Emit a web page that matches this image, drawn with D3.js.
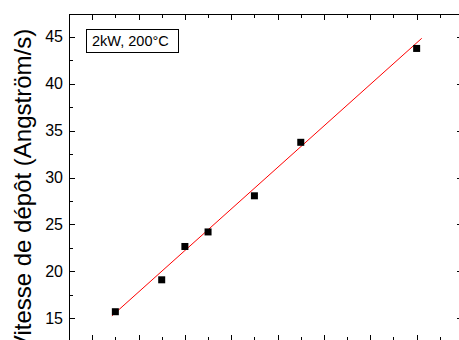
<!DOCTYPE html>
<html>
<head>
<meta charset="utf-8">
<script src="https://cdn.jsdelivr.net/npm/d3@7"></script>
<style>
  body { margin: 0; background: #fff; }
  svg { display: block; font-family: "Liberation Sans", Arial, sans-serif; }
</style>
</head>
<body>
<div id="chart"></div>
<script>
////////////////////////////////////////////////////////////
//////////////////////// Data //////////////////////////////
////////////////////////////////////////////////////////////

var xValues = [1, 3, 4, 5, 7, 9, 14];
var yValues = [15.7, 19.1, 22.65, 24.2, 28.05, 33.75, 43.75];
var yTickLabels = [15, 20, 25, 30, 35, 40, 45];
//linear fit as drawn in the picture (two end points)
var fitX = [0.85, 14.22];
var fitY = [15.25, 44.83];
var boxLabel = "2kW, 200°C";
var yTitle = "Vitesse de dépôt (Angström/s)";

////////////////////////////////////////////////////////////
//////////////////////// Set-Up ////////////////////////////
////////////////////////////////////////////////////////////

var width = 459, height = 340;
var plot = {left: 69, top: 14, right: 463, bottom: 341};

var x = d3.scaleLinear().domain([-1, 16]).range([plot.left, plot.right]);
var y = d3.scaleLinear().domain([12.58, 47.42]).range([plot.bottom, plot.top]);

var svg = d3.select("#chart").append("svg")
	.attr("width", width)
	.attr("height", height);

//frame
svg.append("rect")
	.attr("x", plot.left + 0.5).attr("y", plot.top + 0.5)
	.attr("width", plot.right - plot.left).attr("height", plot.bottom - plot.top)
	.attr("fill", "none").attr("stroke", "#000").attr("stroke-width", 1);

//x ticks (bottom and top, pointing inward)
var xMajor = d3.range(0, 17, 2), xMinor = d3.range(1, 16, 2);
function xTicks(vals, len) {
	vals.forEach(function(v) {
		var px = Math.round(x(v)) + 0.5;
		svg.append("line").attr("x1", px).attr("x2", px)
			.attr("y1", plot.bottom).attr("y2", plot.bottom - len).attr("stroke", "#000");
		svg.append("line").attr("x1", px).attr("x2", px)
			.attr("y1", plot.top).attr("y2", plot.top + len).attr("stroke", "#000");
	});
}
xTicks(xMajor, 6);
xTicks(xMinor, 4);

//y ticks (left and right, pointing inward)
var yMinor = yTickLabels.map(function(d) { return d - 2.5; }).concat([47.5]);
function yTicks(vals, len) {
	vals.forEach(function(v) {
		if (v < y.domain()[0] || v > y.domain()[1]) return;
		var py = Math.round(y(v)) + 0.5;
		svg.append("line").attr("x1", plot.left).attr("x2", plot.left + len)
			.attr("y1", py).attr("y2", py).attr("stroke", "#000");
		svg.append("line").attr("x1", plot.right).attr("x2", plot.right - len)
			.attr("y1", py).attr("y2", py).attr("stroke", "#000");
	});
}
yTicks(yTickLabels, 6);
yTicks(yMinor, 4);

//y tick labels
svg.selectAll("text.ylab")
	.data(yTickLabels)
	.enter().append("text")
	.attr("class", "ylab")
	.attr("x", plot.left - 6)
	.attr("y", function(d) { return y(d); })
	.attr("dy", "0.36em")
	.attr("text-anchor", "end")
	.style("font-size", "16px")
	.text(function(d) { return d; });

//y title
svg.append("text")
	.attr("transform", "translate(31,190) rotate(-90)")
	.attr("text-anchor", "middle")
	.style("font-size", "24px")
	.text(yTitle);

////////////////////////////////////////////////////////////
//////////////////////// Fit line //////////////////////////
////////////////////////////////////////////////////////////

svg.append("path")
	.datum(d3.zip(fitX, fitY))
	.attr("d", d3.line()
		.x(function(d) { return x(d[0]); })
		.y(function(d) { return y(d[1]); }))
	.attr("stroke", "#ff0000")
	.attr("stroke-width", 1)
	.attr("fill", "none");

////////////////////////////////////////////////////////////
//////////////////////// Points ////////////////////////////
////////////////////////////////////////////////////////////

svg.selectAll("rect.pt")
	.data(xValues)
	.enter().append("rect")
	.attr("class", "pt")
	.attr("x", function(d) { return x(d) - 3.5; })
	.attr("y", function(d, i) { return y(yValues[i]) - 3.5; })
	.attr("width", 7).attr("height", 7)
	.attr("fill", "#000");

//label box
var box = svg.append("g").attr("transform", "translate(86.5,29.5)");
box.append("rect").attr("width", 92).attr("height", 23)
	.attr("fill", "#fff").attr("stroke", "#000");
box.append("text").attr("x", 5.5).attr("y", 16.5)
	.style("font-size", "14.5px")
	.text(boxLabel);
</script>
</body>
</html>
